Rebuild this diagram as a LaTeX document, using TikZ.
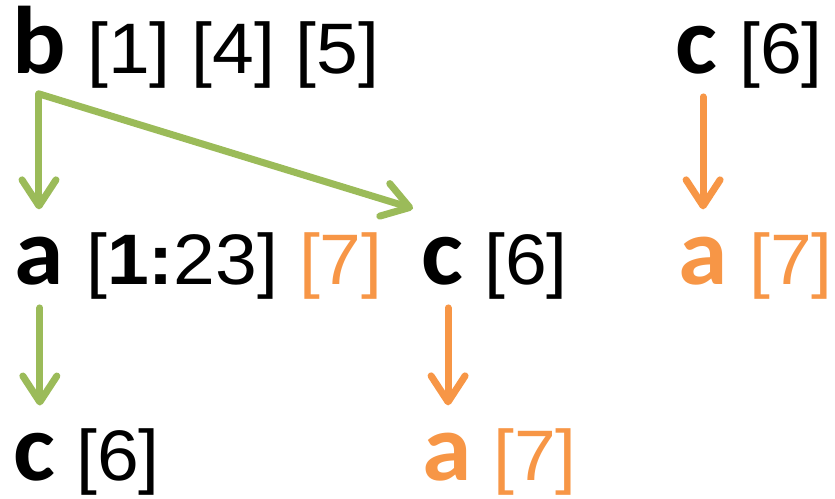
\documentclass[tikz,border=0pt]{standalone}
\usepackage{fontspec}
\setmainfont{Liberation Sans}[FakeStretch=1.05]
\newfontfamily\letterfont{Carlito}[BoldFont=* Bold, FakeStretch=1.04]
\usetikzlibrary{arrows.meta}
\definecolor{offgreen}{HTML}{9BBB59}
\definecolor{offorange}{HTML}{F79646}
\tikzset{
  letter/.style={anchor=base west, inner sep=0pt, font=\letterfont\bfseries\fontsize{96}{100}\selectfont},
  idx/.style={anchor=base west, inner sep=0pt, font=\fontsize{71.5}{80}\selectfont},
  garrow/.style={draw=offgreen, line width=7pt, line cap=round, line join=round,
    -{Straight Barb[length=26pt,width=34pt,round]}},
  oarrow/.style={garrow, draw=offorange},
}
\begin{document}
\begin{tikzpicture}[x=1pt,y=-1pt]
\useasboundingbox (0,0) rectangle (835,498);
% row 1
\node[letter] (b) at (12,73) {b};
\node[idx] (bidx) at (87,73) {[1] [4] [5]};
\node[letter] (ct) at (675,73) {c};
\node[idx] (ctidx) at (739,73) {[6]};
% row 2
\node[letter] (a) at (14,284) {a};
\node[idx] (aidx) at (86,284) {[\textbf{1:}23] \textcolor{offorange}{[7]}};
\node[letter] (cm) at (421,284) {c};
\node[idx] (cmidx) at (484,284) {[6]};
\node[letter, text=offorange] (ar) at (678,284) {a};
\node[idx, text=offorange] (aridx) at (749,284) {[7]};
% row 3
\node[letter] (cb) at (13,480) {c};
\node[idx] (cbidx) at (76,480) {[6]};
\node[letter, text=offorange] (ab) at (422,480) {a};
\node[idx, text=offorange] (abidx) at (493,480) {[7]};
% connector ends
\coordinate (bstart) at ([yshift=-20pt]b.south);
\coordinate (aTop) at ([yshift=27pt]a.north);
\coordinate (cmTip) at ([xshift=-8pt,yshift=28pt]cm.north west);
\coordinate (astart) at ([xshift=1pt,yshift=-23pt]a.south);
\coordinate (cbTop) at ([yshift=27pt]cb.north);
\coordinate (cmstart) at ([xshift=6pt,yshift=-23pt]cm.south);
\coordinate (abTop) at ([yshift=27pt]ab.north);
\coordinate (ctstart) at ([xshift=7pt,yshift=-23pt]ct.south);
\coordinate (arTop) at ([yshift=27pt]ar.north);
% connectors
\draw[garrow] (bstart) -- (bstart |- aTop);
\draw[garrow] (bstart) -- (cmTip);
\draw[garrow] (astart) -- (astart |- cbTop);
\draw[oarrow] (cmstart) -- (cmstart |- abTop);
\draw[oarrow] (ctstart) -- (ctstart |- arTop);
\end{tikzpicture}
\end{document}
